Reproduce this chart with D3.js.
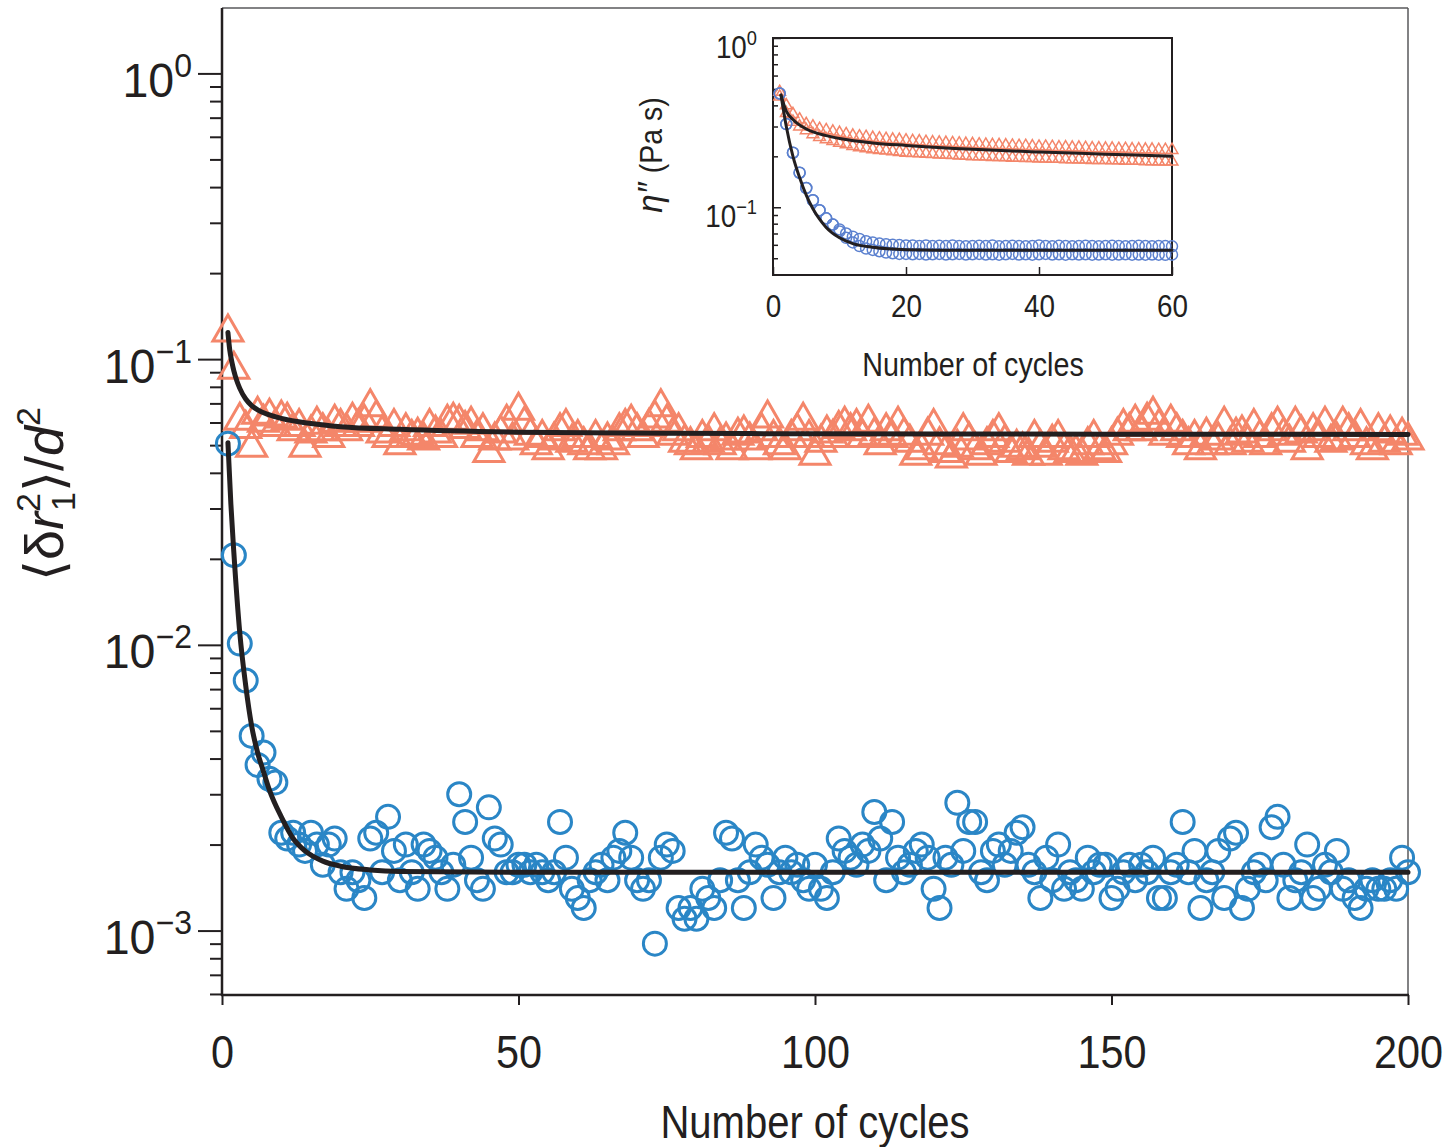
<!DOCTYPE html>
<html>
<head>
<meta charset="utf-8">
<script src="https://cdn.jsdelivr.net/npm/d3@7"></script>
<style>
  body { margin: 0; background: #fff; }
</style>
</head>
<body>
<div class="chart"></div>
<script>
// ---- data ----
// main panel: <dr1^2>/d^2 per cycle, cycles 1..200
const msdBlue = [
  0.0506, 0.0206, 0.0101, 0.0075, 0.0048, 0.0038, 0.0042, 0.0034, 0.0033, 0.0022,
  0.0021, 0.0022, 0.0020, 0.0019, 0.0022, 0.0020, 0.0017, 0.0020, 0.0021, 0.0016,
  0.0014, 0.0016, 0.0015, 0.0013, 0.0021, 0.0022, 0.0016, 0.0025, 0.0019, 0.0015,
  0.0020, 0.0016, 0.0014, 0.0020, 0.0019, 0.0018, 0.0016, 0.0014, 0.0017, 0.0030,
  0.0024, 0.0018, 0.0015, 0.0014, 0.0027, 0.0021, 0.0020, 0.0016, 0.0016, 0.0017,
  0.0017, 0.0016, 0.0017, 0.0016, 0.0015, 0.0016, 0.0024, 0.0018, 0.0014, 0.0013,
  0.0012, 0.0015, 0.0016, 0.0017, 0.0015, 0.0018, 0.0019, 0.0022, 0.0018, 0.0015,
  0.0014, 0.0015, 0.0009, 0.0018, 0.0020, 0.0019, 0.0012, 0.0011, 0.0012, 0.0011,
  0.0014, 0.0013, 0.0012, 0.0015, 0.0022, 0.0021, 0.0015, 0.0012, 0.0016, 0.0020,
  0.0018, 0.0017, 0.0013, 0.0016, 0.0018, 0.0016, 0.0017, 0.0015, 0.0014, 0.0017,
  0.0014, 0.0013, 0.0016, 0.0021, 0.0019, 0.0018, 0.0017, 0.0020, 0.0019, 0.0026,
  0.0021, 0.0015, 0.0024, 0.0018, 0.0016, 0.0017, 0.0019, 0.0020, 0.0018, 0.0014,
  0.0012, 0.0018, 0.0017, 0.0028, 0.0019, 0.0024, 0.0024, 0.0016, 0.0015, 0.0019,
  0.0020, 0.0017, 0.0019, 0.0022, 0.0023, 0.0017, 0.0016, 0.0013, 0.0018, 0.0015,
  0.0020, 0.0014, 0.0016, 0.0015, 0.0014, 0.0018, 0.0016, 0.0017, 0.0017, 0.0013,
  0.0014, 0.0016, 0.0017, 0.0015, 0.0017, 0.0016, 0.0018, 0.0013, 0.0013, 0.0016,
  0.0017, 0.0024, 0.0016, 0.0019, 0.0012, 0.0015, 0.0016, 0.0019, 0.0013, 0.0021,
  0.0022, 0.0012, 0.0014, 0.0016, 0.0017, 0.0015, 0.0023, 0.0025, 0.0017, 0.0013,
  0.0015, 0.0016, 0.0020, 0.0013, 0.0014, 0.0017, 0.0016, 0.0019, 0.0014, 0.0015,
  0.0013, 0.0012, 0.0014, 0.0015, 0.0014, 0.0014, 0.0015, 0.0014, 0.0018, 0.0016
];

const msdOrange = [
  0.124, 0.092, 0.061, 0.057, 0.049, 0.064, 0.060, 0.063, 0.058, 0.062,
  0.061, 0.056, 0.058, 0.049, 0.055, 0.059, 0.056, 0.053, 0.060, 0.058,
  0.056, 0.061, 0.058, 0.060, 0.068, 0.062, 0.055, 0.053, 0.058, 0.050,
  0.056, 0.053, 0.054, 0.052, 0.058, 0.055, 0.053, 0.060, 0.061, 0.060,
  0.057, 0.059, 0.053, 0.056, 0.047, 0.052, 0.055, 0.060, 0.052, 0.066,
  0.059, 0.054, 0.050, 0.053, 0.048, 0.052, 0.056, 0.058, 0.051, 0.053,
  0.050, 0.048, 0.053, 0.048, 0.052, 0.050, 0.056, 0.058, 0.060, 0.056,
  0.053, 0.058, 0.062, 0.068, 0.060, 0.054, 0.056, 0.051, 0.050, 0.048,
  0.053, 0.051, 0.056, 0.050, 0.052, 0.048, 0.054, 0.055, 0.052, 0.048,
  0.056, 0.062, 0.053, 0.050, 0.048, 0.053, 0.056, 0.061, 0.053, 0.046,
  0.051, 0.055, 0.053, 0.057, 0.059, 0.056, 0.058, 0.053, 0.060, 0.054,
  0.050, 0.056, 0.053, 0.059, 0.054, 0.051, 0.046, 0.048, 0.054, 0.058,
  0.050, 0.047, 0.045, 0.049, 0.056, 0.052, 0.048, 0.046, 0.050, 0.053,
  0.056, 0.051, 0.047, 0.049, 0.048, 0.046, 0.053, 0.049, 0.046, 0.051,
  0.053, 0.048, 0.047, 0.047, 0.046, 0.050, 0.053, 0.048, 0.047, 0.050,
  0.054, 0.058, 0.056, 0.060, 0.056, 0.061, 0.064, 0.058, 0.054, 0.060,
  0.056, 0.053, 0.050, 0.053, 0.048, 0.054, 0.050, 0.052, 0.059, 0.050,
  0.054, 0.055, 0.051, 0.058, 0.053, 0.050, 0.056, 0.059, 0.054, 0.051,
  0.059, 0.055, 0.048, 0.056, 0.053, 0.059, 0.051, 0.052, 0.059, 0.056,
  0.053, 0.058, 0.050, 0.048, 0.056, 0.051, 0.055, 0.050, 0.054, 0.052
];

// fit curves, main panel [cycle, value]
const fitBlue = [
  [1, 0.051], [1.5, 0.031], [2, 0.021], [3, 0.011], [4, 0.0072], [5, 0.0052],
  [6, 0.0042], [7, 0.0036], [8, 0.0031], [10, 0.0025], [12, 0.0021], [14, 0.0019],
  [17, 0.00175], [20, 0.00168], [25, 0.00163], [30, 0.00161], [50, 0.0016], [200, 0.0016]
];
const fitOrange = [
  [1, 0.124], [1.3, 0.108], [1.7, 0.097], [2, 0.091], [2.5, 0.084], [3, 0.079],
  [4, 0.0725], [5, 0.0688], [6, 0.0665], [8, 0.0638], [10, 0.062], [15, 0.0595],
  [20, 0.058], [30, 0.0568], [50, 0.0555], [75, 0.055], [100, 0.0548], [150, 0.0546], [200, 0.0545]
];

// inset: eta'' (Pa s) per cycle, cycles 1..60, two rows per series
const etaBlueHi = [
  0.47, 0.31, 0.21, 0.16, 0.13, 0.11, 0.096, 0.086, 0.079, 0.074,
  0.070, 0.067, 0.065, 0.063, 0.062, 0.061, 0.0605, 0.060, 0.0598, 0.0595,
  0.0595, 0.059, 0.0595, 0.059, 0.0592, 0.059, 0.0595, 0.059, 0.0588, 0.059,
  0.0592, 0.059, 0.0595, 0.0588, 0.059, 0.0592, 0.059, 0.0588, 0.059, 0.0595,
  0.059, 0.0588, 0.0592, 0.059, 0.0588, 0.059, 0.0592, 0.059, 0.0588, 0.059,
  0.0592, 0.059, 0.0588, 0.059, 0.0592, 0.059, 0.0588, 0.059, 0.059, 0.0588
];
const etaBlueLo = [
  0.47, 0.31, 0.21, 0.16, 0.13, 0.11, 0.096, 0.086, 0.079, 0.072,
  0.066, 0.062, 0.059, 0.057, 0.056, 0.055, 0.054, 0.0535, 0.053, 0.053,
  0.0528, 0.053, 0.0526, 0.0528, 0.053, 0.0526, 0.0528, 0.053, 0.0526, 0.0528,
  0.053, 0.0526, 0.0528, 0.0525, 0.0528, 0.053, 0.0526, 0.0528, 0.0525, 0.0528,
  0.053, 0.0526, 0.0528, 0.0525, 0.0528, 0.0526, 0.0528, 0.0525, 0.0526, 0.0528,
  0.0525, 0.0526, 0.0528, 0.0525, 0.0526, 0.0525, 0.0526, 0.0525, 0.0524, 0.0525
];
const etaOrangeHi = [
  0.48, 0.40, 0.355, 0.33, 0.31, 0.30, 0.29, 0.285, 0.28, 0.275,
  0.27, 0.265, 0.262, 0.26, 0.257, 0.255, 0.253, 0.251, 0.25, 0.248,
  0.246, 0.245, 0.243, 0.242, 0.241, 0.24, 0.239, 0.238, 0.237, 0.236,
  0.235, 0.234, 0.233, 0.233, 0.232, 0.231, 0.23, 0.23, 0.229, 0.228,
  0.228, 0.227, 0.226, 0.226, 0.225, 0.225, 0.224, 0.223, 0.223, 0.222,
  0.222, 0.221, 0.221, 0.22, 0.22, 0.219, 0.219, 0.218, 0.218, 0.218
];
const etaOrangeLo = [
  0.45, 0.36, 0.32, 0.30, 0.285, 0.27, 0.26, 0.252, 0.246, 0.24,
  0.235, 0.23, 0.226, 0.223, 0.22, 0.218, 0.216, 0.214, 0.212, 0.21,
  0.209, 0.208, 0.207, 0.206, 0.205, 0.204, 0.203, 0.202, 0.201, 0.2,
  0.2, 0.199, 0.198, 0.198, 0.197, 0.196, 0.196, 0.195, 0.195, 0.194,
  0.194, 0.193, 0.193, 0.192, 0.192, 0.191, 0.191, 0.19, 0.19, 0.19,
  0.189, 0.189, 0.188, 0.188, 0.188, 0.187, 0.187, 0.186, 0.186, 0.186
];
const fitEtaBlue = [
  [1.2, 0.46], [2, 0.30], [3, 0.20], [4, 0.15], [5, 0.118], [6, 0.098], [7, 0.085],
  [8, 0.076], [10, 0.066], [12, 0.061], [15, 0.058], [20, 0.0562], [30, 0.0557], [60, 0.0557]
];
const fitEtaOrange = [
  [1.2, 0.46], [2, 0.37], [3, 0.33], [5, 0.29], [8, 0.265], [10, 0.255], [15, 0.24],
  [20, 0.232], [30, 0.22], [40, 0.212], [50, 0.206], [60, 0.2]
];

// tick labels
const xTicksMain = [0, 50, 100, 150, 200];
const yTicksMain = [1, 0.1, 0.01, 0.001];
const yExpMain = ["0", "\u22121", "\u22122", "\u22123"];
const xTicksInset = [0, 20, 40, 60];
const yTicksInset = [1, 0.1];
const yExpInset = ["0", "\u22121"];

// ---- styles ----
const FONT = '"Liberation Sans", Arial, sans-serif';
const INK = "#231f20";
const BLUE = "#2a86c6";
const ORANGE = "#f4866a";
const BLUE_IN = "#5b80cf";
const NARROW = 0.87; // condensed look of the original face

const svg = d3
  .select(".chart")
  .append("svg")
  .attr("width", 1445)
  .attr("height", 1147)
  .style("font-family", FONT);

// squeeze text horizontally around its anchor point
function condense(sel, k) {
  sel.each(function() {
    const t = d3.select(this);
    const ax = +t.attr("x") || 0;
    const prev = t.attr("transform") || "";
    t.attr("transform", prev + " translate(" + ax + ",0) scale(" + k + ",1) translate(" + -ax + ",0)");
  });
}

/**************************************
        MAIN PANEL
**************************************/
const x = d3.scaleLinear().domain([0, 200]).range([222, 1408]);
const y = d3.scaleLog().domain([5.95e-4, 1.694]).range([995, 8]);

const isMajor = v => Math.abs(Math.log10(v) - Math.round(Math.log10(v))) < 1e-6;

// minor y ticks
svg
  .append("g")
  .attr("transform", "translate(222,0)")
  .call(d3.axisLeft(y).tickValues(y.ticks().filter(v => !isMajor(v))).tickSize(12).tickFormat(() => ""))
  .call(g => g.select(".domain").remove())
  .call(g => g.selectAll("line").attr("stroke", INK).attr("stroke-width", 2));

// major y ticks + labels 10^n
const yAxisMain = svg
  .append("g")
  .attr("transform", "translate(222,0)")
  .call(d3.axisLeft(y).tickValues(yTicksMain).tickSize(24).tickPadding(6).tickFormat(() => ""))
  .call(g => g.select(".domain").remove())
  .call(g => g.selectAll("line").attr("stroke", INK).attr("stroke-width", 2));

yAxisMain.selectAll(".tick text").each(function(d, i) {
  const t = d3.select(this).attr("dy", null).attr("y", 23).attr("fill", INK).attr("font-size", 48);
  t.append("tspan").text("10");
  t.append("tspan").attr("font-size", 33).attr("dy", -20).text(yExpMain[i]);
});
condense(yAxisMain.selectAll(".tick text"), 0.97);

// x axis
const xAxisMain = svg
  .append("g")
  .attr("transform", "translate(0,995)")
  .call(d3.axisBottom(x).tickValues(xTicksMain).tickSize(10).tickPadding(30))
  .call(g => g.select(".domain").remove())
  .call(g => g.selectAll("line").attr("stroke", INK).attr("stroke-width", 2))
  .call(g => g.selectAll("text").attr("font-size", 46).attr("fill", INK).attr("font-family", FONT));
condense(xAxisMain.selectAll("text"), 0.9);

// frame
svg.append("line").attr("x1", 222).attr("x2", 1408).attr("y1", 8).attr("y2", 8)
  .attr("stroke", "#58595b").attr("stroke-width", 1.5);
svg.append("line").attr("x1", 1408).attr("x2", 1408).attr("y1", 8).attr("y2", 995)
  .attr("stroke", "#58595b").attr("stroke-width", 1.5);
svg.append("line").attr("x1", 222).attr("x2", 222).attr("y1", 8).attr("y2", 996)
  .attr("stroke", INK).attr("stroke-width", 2.5);
svg.append("line").attr("x1", 221).attr("x2", 1409).attr("y1", 995).attr("y2", 995)
  .attr("stroke", INK).attr("stroke-width", 2.5);

// markers
const tri = d3.symbol().type(d3.symbolTriangle).size(390);
svg
  .append("g")
  .selectAll("path")
  .data(msdOrange)
  .enter()
  .append("path")
  .attr("d", tri)
  .attr("transform", (d, i) => "translate(" + x(i + 1) + "," + y(d) + ")")
  .attr("fill", "none")
  .attr("stroke", ORANGE)
  .attr("stroke-width", 3);

svg
  .append("g")
  .selectAll("circle")
  .data(msdBlue)
  .enter()
  .append("circle")
  .attr("cx", (d, i) => x(i + 1))
  .attr("cy", d => y(d))
  .attr("r", 11.5)
  .attr("fill", "none")
  .attr("stroke", BLUE)
  .attr("stroke-width", 3);

// fits
const fitLine = d3.line().x(d => x(d[0])).y(d => y(d[1])).curve(d3.curveMonotoneX);
[fitOrange, fitBlue].forEach(f => {
  svg.append("path").attr("d", fitLine(f)).attr("fill", "none")
    .attr("stroke", INK).attr("stroke-width", 5).attr("stroke-linecap", "round");
});

// axis titles
const xTitle = svg.append("text").attr("x", 815).attr("y", 1138).attr("text-anchor", "middle")
  .attr("font-size", 46).attr("fill", INK).text("Number of cycles");
condense(xTitle, NARROW);

const yTitle = svg.append("text")
  .attr("transform", "translate(63,494) rotate(-90)")
  .attr("text-anchor", "middle").attr("font-size", 54).attr("fill", INK);
yTitle.append("tspan").text("\u27e8\u03b4");
yTitle.append("tspan").attr("font-style", "italic").text("r");
yTitle.append("tspan").attr("font-size", 34).attr("dy", -23).text("2");
yTitle.append("tspan").attr("font-size", 34).attr("dx", -18).attr("dy", 35).text("1");
yTitle.append("tspan").attr("dy", -12).text("\u27e9/");
yTitle.append("tspan").attr("font-style", "italic").text("d");
yTitle.append("tspan").attr("font-size", 34).attr("dy", -23).text("2");

/**************************************
        INSET
**************************************/
const xi = d3.scaleLinear().domain([0, 60]).range([773, 1172]);
const yi = d3.scaleLog().domain([0.0398, 1]).range([275, 38]);

svg
  .append("g")
  .attr("transform", "translate(773,0)")
  .call(d3.axisLeft(yi).tickValues(yi.ticks().filter(v => !isMajor(v))).tickSize(-5).tickFormat(() => ""))
  .call(g => g.select(".domain").remove())
  .call(g => g.selectAll("line").attr("stroke", INK).attr("stroke-width", 1.5));

const yAxisIn = svg
  .append("g")
  .attr("transform", "translate(773,0)")
  .call(d3.axisLeft(yi).tickValues(yTicksInset).tickSize(-8).tickPadding(16).tickFormat(() => ""))
  .call(g => g.select(".domain").remove())
  .call(g => g.selectAll("line").attr("stroke", INK).attr("stroke-width", 1.5));

yAxisIn.selectAll(".tick text").each(function(d, i) {
  const t = d3.select(this).attr("dy", null).attr("y", 19).attr("fill", INK).attr("font-size", 32);
  t.append("tspan").text("10");
  t.append("tspan").attr("font-size", 21).attr("dy", -13).text(yExpInset[i]);
});
condense(yAxisIn.selectAll(".tick text"), NARROW);

const xAxisIn = svg
  .append("g")
  .attr("transform", "translate(0,275)")
  .call(d3.axisBottom(xi).tickValues(xTicksInset).tickSize(-8).tickPadding(19))
  .call(g => g.select(".domain").remove())
  .call(g => g.selectAll("line").attr("stroke", INK).attr("stroke-width", 1.5))
  .call(g => g.selectAll("text").attr("font-size", 32).attr("fill", INK).attr("font-family", FONT));
condense(xAxisIn.selectAll("text"), NARROW);

svg.append("rect").attr("x", 773).attr("y", 38).attr("width", 399).attr("height", 237)
  .attr("fill", "none").attr("stroke", INK).attr("stroke-width", 2);

const triSmall = d3.symbol().type(d3.symbolTriangle).size(60);
[etaOrangeLo, etaOrangeHi].forEach(arr => {
  svg
    .append("g")
    .selectAll("path")
    .data(arr)
    .enter()
    .append("path")
    .attr("d", triSmall)
    .attr("transform", (d, i) => "translate(" + xi(i + 1) + "," + yi(d) + ")")
    .attr("fill", "none")
    .attr("stroke", ORANGE)
    .attr("stroke-width", 1.5);
});

[etaBlueLo, etaBlueHi].forEach(arr => {
  svg
    .append("g")
    .selectAll("circle")
    .data(arr)
    .enter()
    .append("circle")
    .attr("cx", (d, i) => xi(i + 1))
    .attr("cy", d => yi(d))
    .attr("r", 5.5)
    .attr("fill", "none")
    .attr("stroke", BLUE_IN)
    .attr("stroke-width", 1.5);
});

const fitLineIn = d3.line().x(d => xi(d[0])).y(d => yi(d[1])).curve(d3.curveMonotoneX);
[fitEtaOrange, fitEtaBlue].forEach(f => {
  svg.append("path").attr("d", fitLineIn(f)).attr("fill", "none")
    .attr("stroke", INK).attr("stroke-width", 3).attr("stroke-linecap", "round");
});

const xTitleIn = svg.append("text").attr("x", 973).attr("y", 376).attr("text-anchor", "middle")
  .attr("font-size", 33).attr("fill", INK).text("Number of cycles");
condense(xTitleIn, NARROW);

const yTitleIn = svg.append("text")
  .attr("transform", "translate(662,155) rotate(-90)")
  .attr("text-anchor", "middle").attr("font-size", 31).attr("fill", INK);
yTitleIn.append("tspan").attr("font-style", "italic").attr("font-size", 36).text("\u03b7\u2033");
yTitleIn.append("tspan").attr("dx", 10).text("(Pa s)");
condense(yTitleIn, 0.92);
</script>
</body>
</html>
